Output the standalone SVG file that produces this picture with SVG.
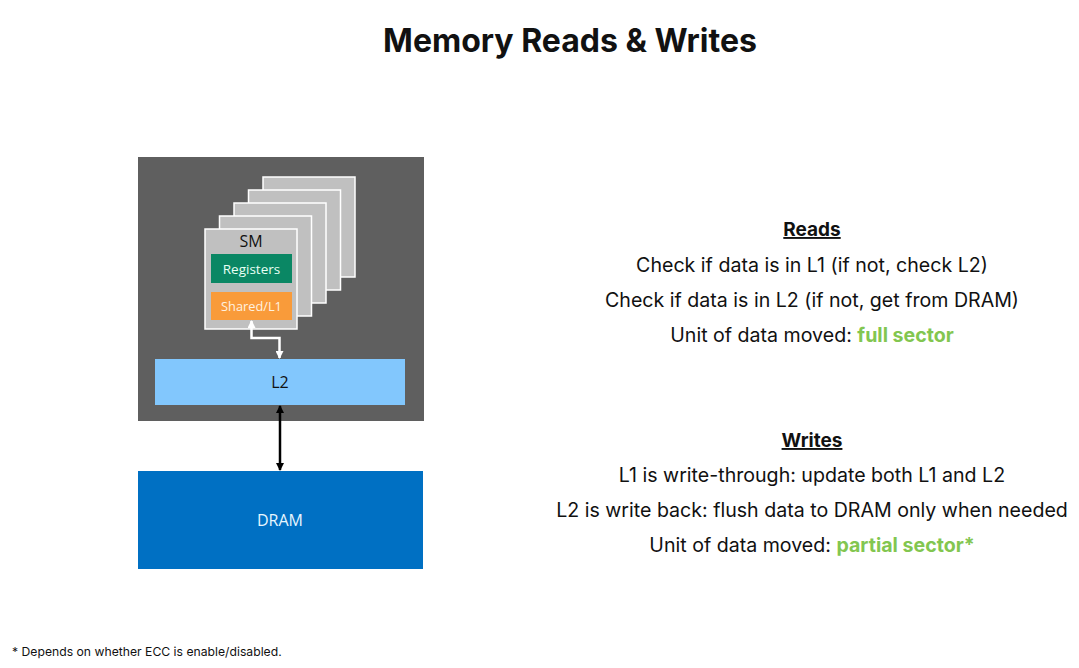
<svg xmlns="http://www.w3.org/2000/svg" width="1079" height="668" viewBox="0 0 1079 668">
<style>
.sm{fill:#c0c0c0;stroke:#ffffff;stroke-width:1.5}
.t{font-family:Inter,"Liberation Sans",sans-serif;fill:#111111;text-anchor:middle}
.d{font-family:"Open Sans","DejaVu Sans",sans-serif;text-anchor:middle}
.g{fill:#82c650;font-weight:bold}
</style>
<defs>
<marker id="aw" markerWidth="8" markerHeight="8" refX="7" refY="4" orient="auto-start-reverse" markerUnits="userSpaceOnUse"><path d="M0,0 L8,4 L0,8 Z" fill="#ffffff"/></marker>
<marker id="ab" markerWidth="8" markerHeight="8" refX="7" refY="4" orient="auto-start-reverse" markerUnits="userSpaceOnUse"><path d="M0,0 L8,4 L0,8 Z" fill="#000000"/></marker>
</defs>
<rect width="1079" height="668" fill="#ffffff"/>
<text class="t" x="570" y="52" font-size="32" font-weight="bold">Memory Reads &amp; Writes</text>
<g id="gpu">
<rect x="138" y="157" width="286" height="264" fill="#5f5f5f"/>
</g>
<g id="sm-stack">
<rect class="sm" x="263" y="177" width="92" height="100"/>
<rect class="sm" x="248.5" y="190" width="92" height="100"/>
<rect class="sm" x="234" y="203" width="92" height="100"/>
<rect class="sm" x="219.5" y="216" width="92" height="100"/>
</g>
<g id="sm">
<rect class="sm" x="205" y="229" width="92" height="100"/>
<text class="d" x="251" y="247" font-size="16" fill="#111111">SM</text>
</g>
<g id="registers">
<rect x="211" y="254" width="81" height="29" fill="#0a8764"/>
<text class="d" x="251.5" y="273.5" font-size="13.5" fill="#e8fff4">Registers</text>
</g>
<g id="shared-l1">
<rect x="211" y="292" width="81" height="28" fill="#f99b3a"/>
<text class="d" x="251.5" y="310.5" font-size="12.8" fill="#fff2e0">Shared/L1</text>
</g>
<g id="l2">
<rect x="155" y="359" width="250" height="46" fill="#82c7fd"/>
<text class="d" x="280" y="388" font-size="16" fill="#111111">L2</text>
</g>
<g id="dram">
<rect x="138" y="471" width="285" height="98" fill="#0070c3"/>
<text class="d" x="280" y="525.5" font-size="16" fill="#e6f6ff">DRAM</text>
</g>
<g id="connectors">
<path d="M251.5,321 V338 H279.5 V358" fill="none" stroke="#ffffff" stroke-width="2.5" marker-start="url(#aw)" marker-end="url(#aw)"/>
<path d="M280,406 V470" fill="none" stroke="#000000" stroke-width="2.5" marker-start="url(#ab)" marker-end="url(#ab)"/>
</g>
<g id="reads">
<text class="t" x="812" y="236" font-size="19" font-weight="bold" text-decoration="underline">Reads</text>
<text class="t" x="812" y="272" font-size="19.6">Check if data is in L1 (if not, check L2)</text>
<text class="t" x="812" y="307" font-size="19.6">Check if data is in L2 (if not, get from DRAM)</text>
<text class="t" x="812" y="342" font-size="19.6">Unit of data moved: <tspan class="g">full sector</tspan></text>
</g>
<g id="writes">
<text class="t" x="812" y="447" font-size="19" font-weight="bold" text-decoration="underline">Writes</text>
<text class="t" x="812" y="482" font-size="19.6">L1 is write-through: update both L1 and L2</text>
<text class="t" x="812" y="517" font-size="19.6">L2 is write back: flush data to DRAM only when needed</text>
<text class="t" x="812" y="552" font-size="19.6">Unit of data moved: <tspan class="g">partial sector*</tspan></text>
</g>
<text x="12" y="656" font-family="Inter,'Liberation Sans',sans-serif" font-size="12.2" fill="#111111">* Depends on whether ECC is enable/disabled.</text>
</svg>
